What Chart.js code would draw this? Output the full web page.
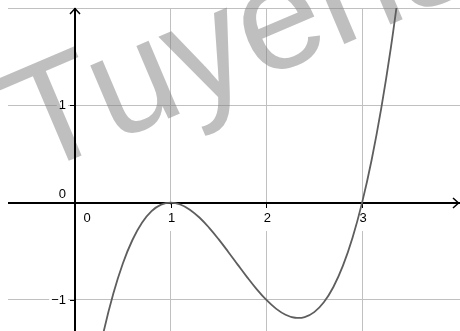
<!DOCTYPE html>
<html><head><meta charset="utf-8">
<script src="https://cdn.jsdelivr.net/npm/chart.js@4/dist/chart.umd.min.js"></script>
<style>html,body{margin:0;padding:0;background:#fff;overflow:hidden}#wrap{width:460px;height:331px}</style>
</head><body>
<div id="wrap"><canvas id="c" width="460" height="331"></canvas></div>
<script>
// curve samples
const xValues = [0.2, 0.3, 0.4, 0.5, 0.6, 0.7, 0.8, 0.9, 1.0, 1.1, 1.2, 1.3, 1.4, 1.5, 1.6, 1.7, 1.8, 1.9, 2.0, 2.1, 2.2, 2.3, 2.4, 2.5, 2.6, 2.7, 2.8, 2.9, 3.0, 3.1, 3.2, 3.3, 3.4];
const yValues = [-1.792, -1.323, -0.936, -0.625, -0.384, -0.207, -0.088, -0.021, 0, -0.019, -0.072, -0.153, -0.256, -0.375, -0.504, -0.637, -0.768, -0.891, -1.0, -1.089, -1.152, -1.183, -1.176, -1.125, -1.024, -0.867, -0.648, -0.361, 0, 0.441, 0.968, 1.587, 2.304];
// axis tick labels
const xTickValues = [0, 1, 2, 3];
const xTickLabels = ['0', '1', '2', '3'];
const yTickValues = [0, 1, -1];
const yTickLabels = ['0', '1', '\u22121'];
const watermarkText = 'Tuyensinh247.com';

const LABEL_FONT = '13px "Liberation Sans", Arial, sans-serif';
const GRID = 'rgb(192,192,192)';

const axesPlugin = {
  id: 'axesPlugin',
  beforeDatasetsDraw(chart) {
    const ctx = chart.ctx, xs = chart.scales.x, ys = chart.scales.y, a = chart.chartArea;
    const ox = Math.round(xs.getPixelForValue(0)), oy = Math.round(ys.getPixelForValue(0));
    ctx.save();
    ctx.font = LABEL_FONT;
    // white backgrounds behind labels
    ctx.fillStyle = '#fff';
    xTickValues.forEach((v, i) => {
      if (v === 0) return;
      const px = xs.getPixelForValue(v);
      const w = ctx.measureText(xTickLabels[i]).width + 4;
      ctx.fillRect(px + 1 - w / 2, oy + 2, w, 26);
    });
    yTickValues.forEach((v, i) => {
      if (v === 0) return;
      const py = ys.getPixelForValue(v);
      const w = ctx.measureText(yTickLabels[i]).width + 3;
      ctx.fillRect(ox - 8 - w, py - 7, w + 1, 14);
    });
    // watermark (semi-transparent, under axes and labels)
    ctx.save();
    ctx.translate(33, 176);
    ctx.rotate(-23 * Math.PI / 180);
    ctx.font = '150px "Liberation Sans", Arial, sans-serif';
    ctx.fillStyle = 'rgba(128,128,128,0.5)';
    ctx.textBaseline = 'alphabetic';
    ctx.textAlign = 'left';
    ctx.fillText(watermarkText, 0, 0);
    ctx.restore();
    // axes
    ctx.strokeStyle = '#000';
    ctx.lineWidth = 2;
    ctx.beginPath();
    ctx.moveTo(a.left, oy); ctx.lineTo(a.right, oy);
    ctx.moveTo(ox, a.bottom); ctx.lineTo(ox, a.top);
    ctx.stroke();
    ctx.lineWidth = 1.5;
    ctx.beginPath();
    ctx.moveTo(ox - 5, a.top + 6); ctx.lineTo(ox, a.top + 0.5); ctx.lineTo(ox + 5, a.top + 6);
    ctx.moveTo(a.right - 7, oy - 5); ctx.lineTo(a.right - 1.5, oy); ctx.lineTo(a.right - 7, oy + 5);
    ctx.stroke();
    // tick marks
    ctx.lineWidth = 1;
    ctx.beginPath();
    xTickValues.forEach(v => { if (v === 0) return; const px = Math.round(xs.getPixelForValue(v)) + 0.5; ctx.moveTo(px, oy); ctx.lineTo(px, oy + 5); });
    yTickValues.forEach(v => { if (v === 0) return; const py = Math.round(ys.getPixelForValue(v)) + 0.5; ctx.moveTo(ox, py); ctx.lineTo(ox - 5, py); });
    ctx.stroke();
    // labels
    ctx.fillStyle = '#000';
    ctx.textBaseline = 'middle';
    ctx.textAlign = 'center';
    xTickValues.forEach((v, i) => {
      const px = v === 0 ? ox + 12 : xs.getPixelForValue(v) + 1;
      ctx.fillText(xTickLabels[i], px, oy + 15);
    });
    ctx.textAlign = 'right';
    yTickValues.forEach((v, i) => {
      const py = v === 0 ? oy - 9 : ys.getPixelForValue(v) + 0.5;
      ctx.fillText(yTickLabels[i], ox - 9, py);
    });
    ctx.restore();
  }
};

const gridColor = c => (c.tick && Number.isInteger(c.tick.value) && c.tick.value !== 0) ? GRID : 'rgba(0,0,0,0)';

new Chart(document.getElementById('c'), {
  type: 'line',
  data: {
    datasets: [{
      data: xValues.map((x, i) => ({ x: x, y: yValues[i] })),
      borderColor: '#5e5e5e',
      borderWidth: 1.8,
      pointRadius: 0,
      tension: 0.4,
      fill: false
    }]
  },
  options: {
    responsive: false,
    animation: false,
    events: [],
    layout: { padding: { left: 8, top: 8, right: 0, bottom: 0 } },
    plugins: { legend: { display: false }, tooltip: { enabled: false } },
    scales: {
      x: {
        type: 'linear', min: -0.70, max: 4.023,
        ticks: { display: false, stepSize: 1 },
        grid: { color: gridColor, lineWidth: 1, drawTicks: false },
        border: { display: false },
        afterFit: s => { s.height = 0; }
      },
      y: {
        type: 'linear', min: -1.319, max: 2,
        ticks: { display: false, stepSize: 1 },
        grid: { color: gridColor, lineWidth: 1, drawTicks: false },
        border: { display: false },
        afterFit: s => { s.width = 0; }
      }
    }
  },
  plugins: [axesPlugin]
});
</script>
</body></html>
